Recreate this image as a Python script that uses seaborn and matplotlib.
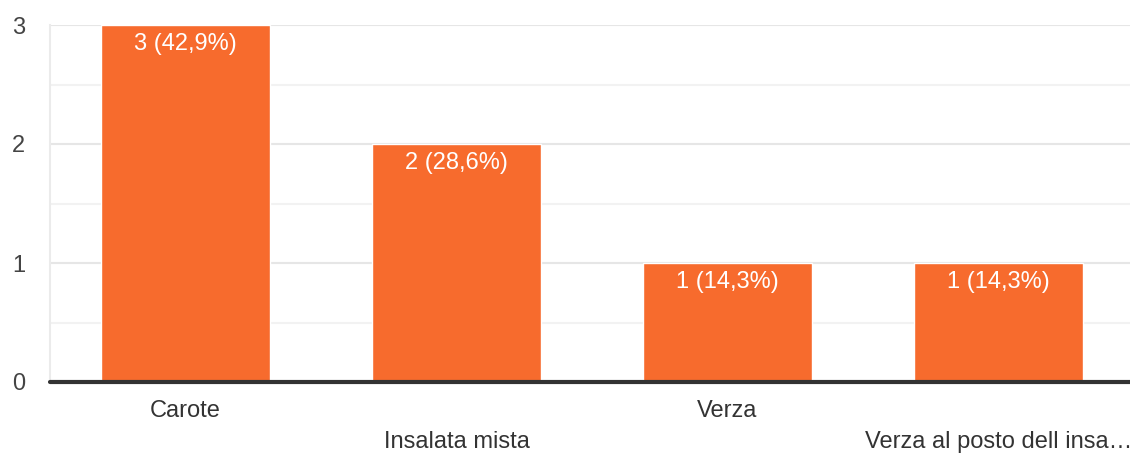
import matplotlib
matplotlib.use("Agg")
import matplotlib.pyplot as plt
import seaborn as sns
import pandas as pd

categories = ["Carote", "Insalata mista", "Verza", "Verza al posto dell insa…"]
counts = [3, 2, 1, 1]
bar_labels = ["3 (42,9%)", "2 (28,6%)", "1 (14,3%)", "1 (14,3%)"]
y_ticks = [0, 1, 2, 3]

sns.set_theme(style="white")
plt.rcParams['font.family'] = ['Liberation Sans', 'DejaVu Sans']

df = pd.DataFrame({"cat": categories, "n": counts})

fig = plt.figure(figsize=(11.3, 4.55), dpi=100)
ax = fig.add_axes([50/1130, 73/455, 1084/1130, 357/455])

sns.barplot(data=df, x="cat", y="n", color="#F76B2D", saturation=1, width=0.62, ax=ax)

ax.set_ylim(0, 3)
ax.set_xlim(-0.5, 3.5)
ax.set_yticks(y_ticks)
ax.set_yticks([0.5, 1.5, 2.5], minor=True)
ax.yaxis.grid(True, which="major", color="#e6e6e6", linewidth=1.5)
ax.yaxis.grid(True, which="minor", color="#f2f2f2", linewidth=1.5)
ax.set_axisbelow(True)
for s in ["top", "right", "bottom"]:
    ax.spines[s].set_visible(False)
ax.spines["left"].set_color("#ebebeb")
ax.spines["left"].set_linewidth(1.5)
ax.axhline(0, color="#333333", linewidth=3, zorder=5, clip_on=False)

ax.set_xlabel("")
ax.set_ylabel("")
ax.tick_params(axis="y", which="both", length=0, pad=18, labelsize=17, labelcolor="#444444")
ax.tick_params(axis="x", length=0, labelsize=17, labelcolor="#333333")
ax.set_xticks(range(len(categories)))
ax.set_xticklabels([c if i % 2 == 0 else "\n" + c for i, c in enumerate(categories)], linespacing=1.5)
for lbl in ax.get_xticklabels():
    lbl.set_verticalalignment("top")
ax.tick_params(axis="x", pad=13)

for i, (v, t) in enumerate(zip(counts, bar_labels)):
    ax.annotate(t, (i, v), xytext=(0, -19), textcoords="offset pixels",
                ha="center", va="center", color="white", fontsize=17)

fig.savefig("out.png", dpi=100)
